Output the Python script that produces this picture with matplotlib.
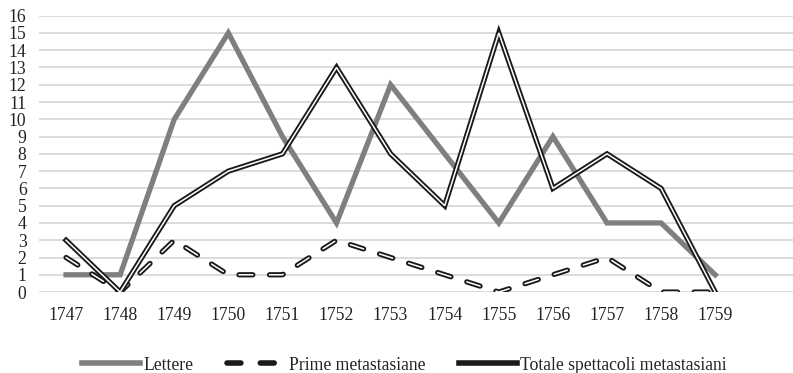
import matplotlib.pyplot as plt
from matplotlib.lines import Line2D

years = ["1747", "1748", "1749", "1750", "1751", "1752", "1753",
         "1754", "1755", "1756", "1757", "1758", "1759"]
lettere = [1, 1, 10, 15, 9, 4, 12, 8, 4, 9, 4, 4, 1]
prime = [2, 0, 3, 1, 1, 3, 2, 1, 0, 1, 2, 0, 0]
totale = [3, 0, 5, 7, 8, 13, 8, 5, 15, 6, 8, 6, 0]

plt.rcParams['font.family'] = ['Liberation Serif', 'DejaVu Serif']
plt.rcParams['lines.scale_dashes'] = False

fig = plt.figure(figsize=(7.93, 3.73), dpi=100)
ax = fig.add_axes([0.0492, 0.217, 0.955, 0.741])

x = list(range(len(years)))

ax.plot(x, lettere, color='#7f7f7f', linewidth=3.8, solid_joinstyle='miter', zorder=3)

# double lines: black outer, white inner
dash = (0, (10, 12))
ax.plot(x, prime, color='#1a1a1a', linewidth=3.8, linestyle=dash,
        dash_capstyle='round', zorder=4)
ax.plot(x, prime, color='white', linewidth=1.1, linestyle=dash,
        dash_capstyle='round', zorder=5)

ax.plot(x, totale, color='#1a1a1a', linewidth=3.8, solid_joinstyle='miter', zorder=6)
ax.plot(x, totale, color='white', linewidth=1.1, solid_joinstyle='miter', zorder=7)

ax.set_xlim(-0.5, 13.5)
ax.set_ylim(0, 16)
ax.set_yticks(range(0, 17))
ax.set_xticks(x)
ax.set_xticklabels(years)
ax.tick_params(axis='both', length=0, labelsize=12.7, colors='#222222')
ax.tick_params(axis='x', pad=11)
ax.tick_params(axis='y', pad=9)
ax.grid(axis='y', color='#d9d9d9', linewidth=1.3)
ax.set_axisbelow(True)
for s in ax.spines.values():
    s.set_visible(False)

handles = [
    Line2D([], [], color='#7f7f7f', linewidth=4),
    Line2D([], [], color='#1a1a1a', linewidth=4, linestyle=(0, (10, 14)),
           dash_capstyle='round'),
    Line2D([], [], color='#1a1a1a', linewidth=4),
]
labels = ["Lettere", "Prime metastasiane", "Totale spettacoli metastasiani"]
fig.legend(handles, labels, loc='center', bbox_to_anchor=(0.51, 1 - 365 / 373),
           ncol=3, frameon=False, fontsize=12.7, handlelength=3.3,
           handletextpad=0.2, columnspacing=1.9, labelcolor='#222222')

fig.savefig('out.png', dpi=100)
